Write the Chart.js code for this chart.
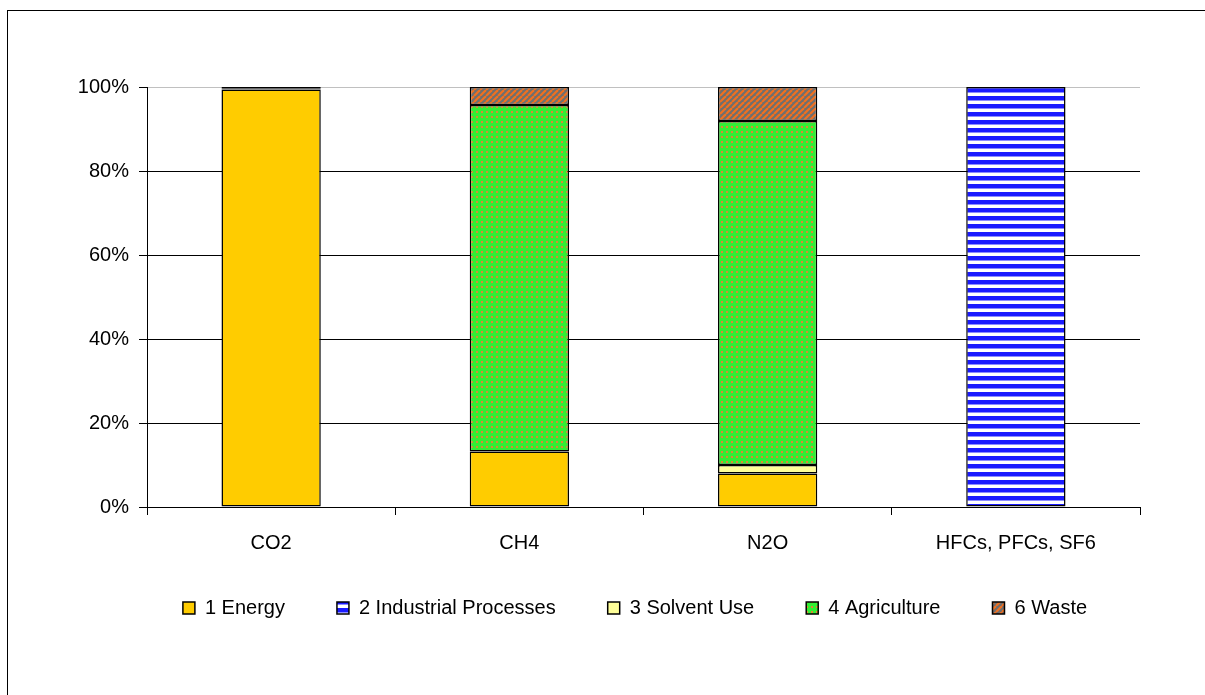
<!DOCTYPE html>
<html>
<head>
<meta charset="utf-8">
<script src="https://cdn.jsdelivr.net/npm/chart.js@4"></script>
<style>
  body { margin: 0; background: #fff; }
  #wrap { position: relative; width: 1205px; height: 695px; overflow: hidden; }
  #frame { position: absolute; left: 7px; top: 10px; width: 1400px; height: 900px; border-left: 1px solid #000; border-top: 1px solid #000; }
  canvas { position: absolute; left: 0; top: 0; }
</style>
</head>
<body>
<div id="wrap">
  <div id="frame"></div>
  <canvas id="chart" width="1205" height="695"></canvas>
</div>
<script>
// gases on the x axis
const gases = ['CO2', 'CH4', 'N2O', 'HFCs, PFCs, SF6'];
// share of each sector in percent (null = no segment)
const energy     = [99.4, 13.2, 8.0, null];
const industrial = [0.3, null, null, 100];
const solvent    = [null, null, 2.0, null];
const agri       = [null, 82.5, 81.9, null];
const waste      = [0.3, 4.3, 8.1, null];
const yTicks = [0, 20, 40, 60, 80, 100];

function makePattern(w, h, draw) {
  const c = document.createElement('canvas');
  c.width = w; c.height = h;
  const g = c.getContext('2d');
  draw(g);
  return g.createPattern(c, 'repeat');
}

// blue / white horizontal stripes
const stripesBlue = makePattern(8, 8, g => {
  g.fillStyle = '#ffffff'; g.fillRect(0, 0, 8, 8);
  g.fillStyle = '#1a1aff'; g.fillRect(0, 0, 8, 4);
  g.fillStyle = '#8c8cff'; g.fillRect(0, 4, 8, 1);
});
// green with orange dots
const dotsGreen = makePattern(5, 5, g => {
  g.fillStyle = '#33ee33'; g.fillRect(0, 0, 5, 5);
  g.fillStyle = '#d98c33'; g.fillRect(1, 1, 2, 2);
});
// orange / gray diagonal stripes
const diagWaste = makePattern(6, 6, g => {
  g.fillStyle = '#6f6f6f'; g.fillRect(0, 0, 6, 6);
  g.strokeStyle = '#f07020'; g.lineWidth = 2.2;
  for (let k = -6; k <= 12; k += 6) {
    g.beginPath(); g.moveTo(k, 6); g.lineTo(k + 6, 0); g.stroke();
  }
});

const font = { family: 'Liberation Sans, Arial, sans-serif', size: 20 };

function ds(label, data, bg) {
  return {
    label: label, data: data, backgroundColor: bg,
    borderColor: '#000', borderWidth: 1.5, borderSkipped: false,
    barPercentage: 0.4, categoryPercentage: 1.0
  };
}

// shift the legend so it sits centred under the bars like the original
const legendShift = {
  id: 'legendShift',
  afterLayout(chart) {
    chart.legend.left = 130;
    chart.legend.top = 546;
  }
};

new Chart(document.getElementById('chart'), {
  type: 'bar',
  data: {
    labels: gases,
    datasets: [
      ds('1 Energy', energy, '#ffcc00'),
      ds('2 Industrial Processes', industrial, stripesBlue),
      ds('3 Solvent Use', solvent, '#ffff99'),
      ds('4 Agriculture', agri, dotsGreen),
      ds('6 Waste', waste, diagWaste)
    ]
  },
  plugins: [legendShift],
  options: {
    responsive: false,
    devicePixelRatio: 1,
    animation: false,
    layout: { padding: { left: 0, right: 65, top: 87, bottom: 46 } },
    plugins: {
      tooltip: { enabled: false },
      legend: {
        position: 'bottom',
        labels: { font: font, color: '#000', boxWidth: 12, boxHeight: 12, padding: 52 }
      }
    },
    scales: {
      x: {
        stacked: true,
        offset: true,
        grid: { offset: true, drawOnChartArea: false, drawTicks: true, tickLength: 8, tickColor: '#000' },
        border: { color: '#000', width: 1 },
        ticks: { font: font, color: '#000', padding: 16 },
        afterFit: s => { s.height = 60; }
      },
      y: {
        stacked: true,
        min: 0, max: 100,
        afterBuildTicks: s => { s.ticks = yTicks.map(v => ({ value: v })); },
        grid: {
          color: c => c.tick && c.tick.value === 100 ? '#c0c0c0' : '#000',
          tickColor: '#000', tickLength: 8
        },
        border: { color: '#000', width: 1 },
        ticks: { font: font, color: '#000', padding: 10, callback: v => v + '%' },
        afterFit: s => { s.width = 147; }
      }
    }
  }
});
</script>
</body>
</html>
